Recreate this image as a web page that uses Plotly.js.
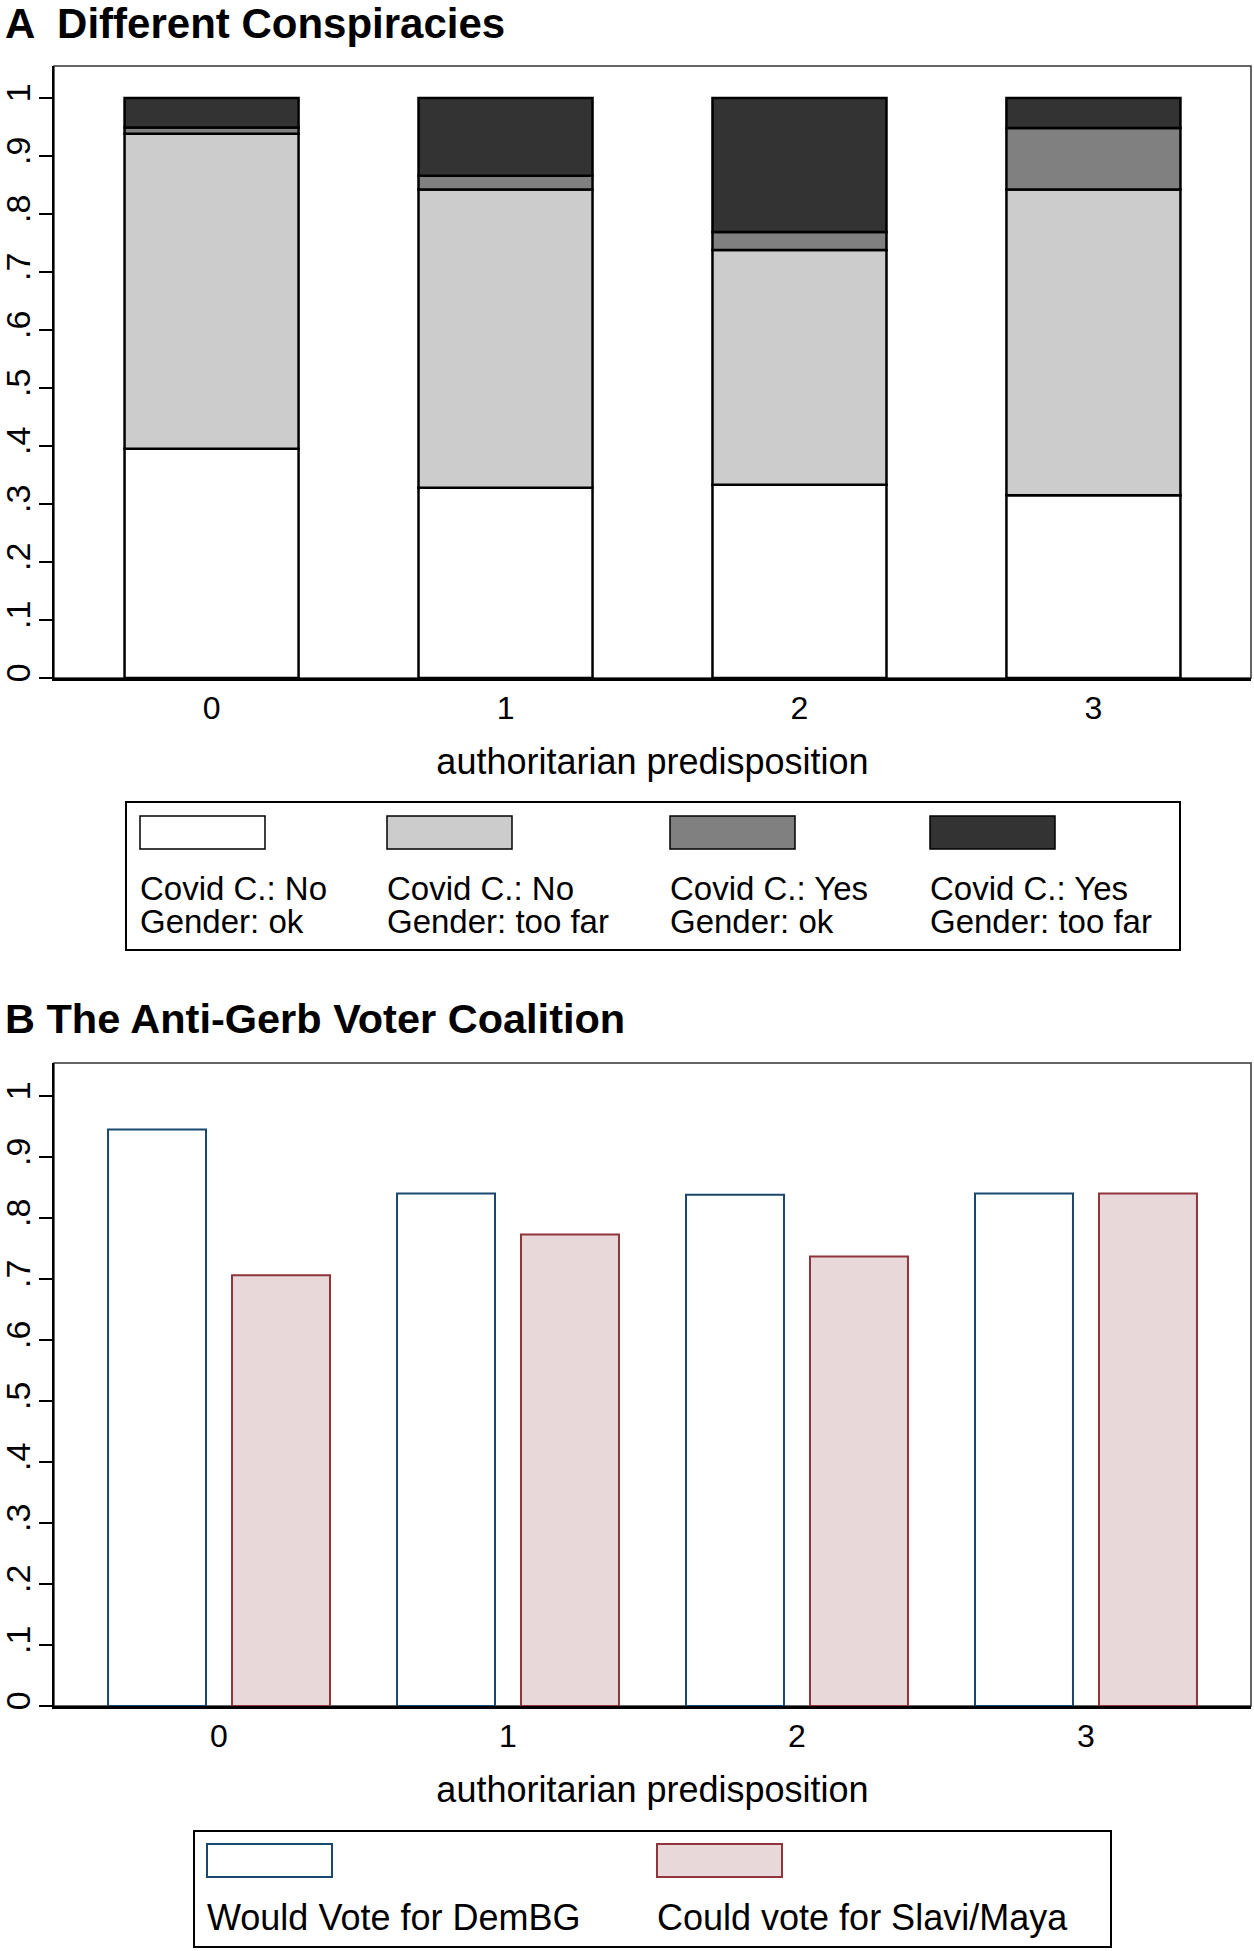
<!DOCTYPE html>
<html>
<head>
<meta charset="utf-8">
<script src="https://cdn.plot.ly/plotly-3.0.1.min.js"></script>
<style>
  html, body { margin: 0; padding: 0; background: #fff; }
  #chart { width: 1254px; height: 1951px; }
</style>
</head>
<body>
<div id="chart"></div>
<script>
// Panel A: shares of each conspiracy combination, by authoritarian predisposition
const categories = [0, 1, 2, 3];
const covidNoGenderOk = [0.395, 0.328, 0.333, 0.315];
const covidNoGenderFar = [0.543, 0.514, 0.405, 0.527];
const covidYesGenderOk = [0.011, 0.024, 0.031, 0.106];
const covidYesGenderFar = [0.051, 0.134, 0.231, 0.052];
const seriesNamesA = [
  ["Covid C.: No", "Gender: ok"],
  ["Covid C.: No", "Gender: too far"],
  ["Covid C.: Yes", "Gender: ok"],
  ["Covid C.: Yes", "Gender: too far"],
];
const colorsA = ["#ffffff", "#cccccc", "#808080", "#333333"];

// Panel B: anti-Gerb voter coalition
const wouldVoteDemBG = [0.945, 0.84, 0.838, 0.84];
const couldVoteSlavi = [0.706, 0.773, 0.737, 0.84];
const seriesNamesB = ["Would Vote for DemBG", "Could vote for Slavi/Maya"];

const yTicks = [0, 0.1, 0.2, 0.3, 0.4, 0.5, 0.6, 0.7, 0.8, 0.9, 1];
const yTickText = ["0", ".1", ".2", ".3", ".4", ".5", ".6", ".7", ".8", ".9", "1"];

const W = 1254, H = 1951;
const px = (x) => x / W;
const py = (y) => 1 - y / H;
const FONT = "Liberation Sans, Arial, Helvetica, sans-serif";

// stacked segments, base computed from the running total
const segA = [covidNoGenderOk, covidNoGenderFar, covidYesGenderOk, covidYesGenderFar];
let running = categories.map(() => 0);
const tracesA = segA.map((vals, i) => {
  const base = running.slice();
  running = running.map((r, j) => r + vals[j]);
  return {
    type: "bar",
    x: categories,
    y: vals,
    base: base,
    width: 0.592,
    xaxis: "x",
    yaxis: "y",
    marker: { color: colorsA[i], line: { color: "#000", width: 2.5 } },
    name: seriesNamesA[i].join(" "),
    hoverinfo: "skip",
  };
});

const tracesB = [
  {
    type: "bar",
    x: categories,
    y: wouldVoteDemBG,
    width: 0.339,
    offset: -0.384,
    xaxis: "x2",
    yaxis: "y2",
    marker: { color: "#ffffff", line: { color: "#1a476f", width: 2 } },
    name: seriesNamesB[0],
  },
  {
    type: "bar",
    x: categories,
    y: couldVoteSlavi,
    width: 0.339,
    offset: 0.045,
    xaxis: "x2",
    yaxis: "y2",
    marker: { color: "#e8d8da", line: { color: "#90353b", width: 2 } },
    name: seriesNamesB[1],
  },
];

function xAxis(domain, range, anchor) {
  return {
    domain: domain,
    range: range,
    anchor: anchor,
    tickvals: categories,
    ticktext: categories.map(String),
    ticks: "",
    ticklabelstandoff: 0,
    showline: true,
    linecolor: "#000",
    linewidth: 2.5,
    showgrid: false,
    zeroline: false,
    tickfont: { size: 32, color: "#000" },
    title: {
      text: "authoritarian predisposition",
      font: { size: 36, color: "#000" },
      standoff: 24,
    },
  };
}

function yAxis(domain, range, anchor) {
  return {
    domain: domain,
    range: range,
    anchor: anchor,
    tickvals: yTicks,
    ticktext: yTickText,
    tickangle: -90,
    ticks: "outside",
    ticklen: 13,
    tickwidth: 2,
    tickcolor: "#000",
    ticklabelstandoff: -5,
    showline: true,
    linecolor: "#000",
    linewidth: 2.5,
    showgrid: false,
    zeroline: false,
    tickfont: { size: 34, color: "#000" },
  };
}

const shapes = [];
const annotations = [];

// plot region outlines (top and right edges)
[[66, 678], [1063, 1706]].forEach(([top, bottom]) => {
  shapes.push({
    type: "rect", xref: "paper", yref: "paper", layer: "below",
    x0: px(54), x1: px(1251), y0: py(bottom), y1: py(top),
    line: { color: "#333", width: 1.5 },
  });
});

// legend A
shapes.push({
  type: "rect", xref: "paper", yref: "paper",
  x0: px(126), x1: px(1180), y0: py(950), y1: py(802),
  line: { color: "#000", width: 2 }, fillcolor: "rgba(0,0,0,0)",
});
const legendAx = [140, 387, 670, 930];
legendAx.forEach((lx, i) => {
  shapes.push({
    type: "rect", xref: "paper", yref: "paper",
    x0: px(lx), x1: px(lx + 125), y0: py(849), y1: py(816),
    line: { color: "#000", width: 1.5 }, fillcolor: colorsA[i],
  });
  seriesNamesA[i].forEach((line, k) => {
    annotations.push({
      xref: "paper", yref: "paper", x: px(lx - 2), y: py(888 + k * 33.5),
      xanchor: "left", yanchor: "middle", showarrow: false,
      text: line, font: { size: 33, color: "#000" },
    });
  });
});

// legend B
shapes.push({
  type: "rect", xref: "paper", yref: "paper",
  x0: px(194), x1: px(1111), y0: py(1947), y1: py(1831),
  line: { color: "#000", width: 2 }, fillcolor: "rgba(0,0,0,0)",
});
const legendBx = [207, 657];
const legendBstyle = [tracesB[0].marker, tracesB[1].marker];
legendBx.forEach((lx, i) => {
  shapes.push({
    type: "rect", xref: "paper", yref: "paper",
    x0: px(lx), x1: px(lx + 125), y0: py(1877), y1: py(1844),
    line: { color: legendBstyle[i].line.color, width: 2 },
    fillcolor: legendBstyle[i].color,
  });
  annotations.push({
    xref: "paper", yref: "paper", x: px(lx - 2), y: py(1917),
    xanchor: "left", yanchor: "middle", showarrow: false,
    text: seriesNamesB[i], font: { size: 36, color: "#000" },
  });
});

// panel B heading
annotations.push({
  xref: "paper", yref: "paper", x: px(3), y: py(1018),
  xanchor: "left", yanchor: "middle", showarrow: false,
  text: "<b>B The Anti-Gerb Voter Coalition</b>",
  font: { size: 41.5, color: "#000" },
});

const layout = {
  width: W,
  height: H,
  margin: { l: 0, r: 0, t: 0, b: 0 },
  paper_bgcolor: "#fff",
  plot_bgcolor: "#fff",
  font: { family: FONT, color: "#000" },
  showlegend: false,
  barmode: "overlay",
  title: {
    text: "<b>A  Different Conspiracies</b>",
    font: { size: 42, color: "#000" },
    x: px(5), xanchor: "left", xref: "paper",
    y: py(23), yanchor: "middle", yref: "container",
  },
  xaxis: xAxis([px(54), px(1251)], [-0.536, 3.536], "y"),
  yaxis: yAxis([py(678), py(66)], [0, 1.055], "x"),
  xaxis2: xAxis([px(54), px(1251)], [-0.571, 3.571], "y2"),
  yaxis2: yAxis([py(1706), py(1063)], [0, 1.054], "x2"),
  shapes: shapes,
  annotations: annotations,
};

Plotly.newPlot("chart", [...tracesA, ...tracesB], layout, { displayModeBar: false, staticPlot: true });
</script>
</body>
</html>
